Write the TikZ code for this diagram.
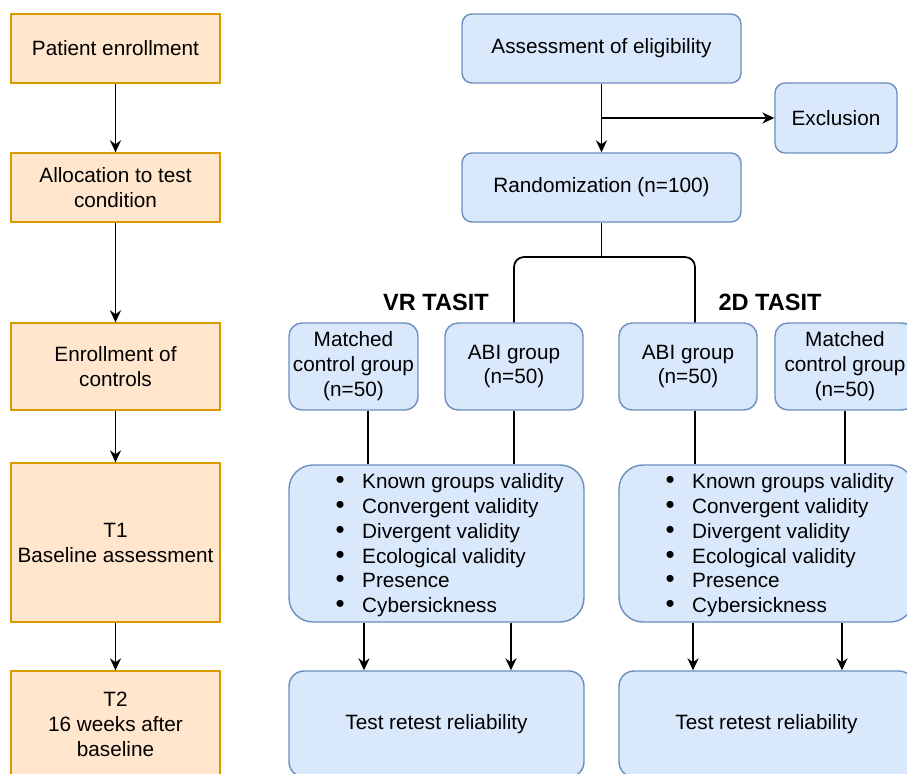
\documentclass[tikz,border=0pt]{standalone}
\usepackage{fontspec}
\setmainfont{Liberation Sans}
\usepackage{xcolor}
\usetikzlibrary{arrows.meta,positioning,calc}
\definecolor{orfill}{HTML}{FFE6CC}
\definecolor{orline}{HTML}{D79B00}
\definecolor{blfill}{HTML}{DAE8FC}
\definecolor{blline}{HTML}{6C8EBF}
\tikzset{
    txt/.style = {font=\fontsize{11.8}{14.2}\selectfont, align=center},
    phase/.style = {txt, draw=orline, fill=orfill, line width=0.8pt, minimum width=4.18cm, inner sep=0pt},
    box/.style = {txt, draw=blline, fill=blfill, line width=0.8pt, rounded corners=0.2cm, inner sep=0pt},
    listbox/.style = {box, rounded corners=0.48cm, minimum width=5.9cm, minimum height=3.14cm},
    grp/.style = {box, rounded corners=0.26cm, minimum height=1.74cm},
    items/.style = {font=\fontsize{11.8}{14.1}\selectfont, align=left, inner sep=0pt, anchor=west},
    arm/.style = {font=\fontsize{13.4}{16}\selectfont\bfseries, inner sep=0pt}
}
\newcommand{\itm}{\makebox[0.88cm]{\scalebox{1.25}{\textbullet}}}

\begin{document}
\begin{tikzpicture}[x=0.02cm, y=-0.02cm, line width=1pt, >={Stealth[length=6.8pt,width=6.3pt]}]

    \useasboundingbox (0,0) rectangle (907,774);
    \clip (0,0) rectangle (907,774);

    % Timeline
    \node[phase, minimum height=1.38cm] (Enr) at (115.5,48.5) {Patient enrollment};
    \node[phase, minimum height=1.38cm] (Alloc) at (115.5,187.5) {Allocation to test\\condition};
    \node[phase, minimum height=1.74cm] (Ctrl) at (115.5,366.5) {Enrollment of\\controls};
    \node[phase, minimum height=3.18cm] (TA) at (115.5,542.5) {T1\\Baseline assessment};
    \node[phase, minimum height=2.12cm] (TB) at (115.5,724) {T2\\16 weeks after\\baseline};

    % Nodes
    \node[box, minimum width=5.58cm, minimum height=1.38cm] (Elig) at (601.5,48.5) {Assessment of eligibility};
    \node[box, minimum width=2.44cm, minimum height=1.4cm] (Excl) at (836,118) {Exclusion};
    \node[box, minimum width=5.58cm, minimum height=1.38cm] (Rand) at (601.5,187.5) {Randomization (n=100)};
    \coordinate (S) at (601.5,257);

    \node[arm] (VRlab) at (436,302) {VR TASIT};
    \node[arm] (DDlab) at (770,302) {2D TASIT};

    \node[grp, minimum width=2.58cm] (VRc) at (353.5,366.5) {Matched\\control group\\(n=50)};
    \node[grp, minimum width=2.76cm] (VRa) at (514,366.5) {ABI group\\(n=50)};
    \node[grp, minimum width=2.76cm] (DDa) at (688,366.5) {ABI group\\(n=50)};
    \node[grp, minimum width=2.8cm] (DDc) at (845,366.5) {Matched\\control group\\(n=50)};

    \node[listbox] (VRl) at (436.5,543.5) {};
    \node[items] (VRi) at ([xshift=0.58cm,yshift=-1pt]VRl.west) {\itm Known groups validity\\\itm Convergent validity\\\itm Divergent validity\\\itm Ecological validity\\\itm Presence\\\itm Cybersickness};
    \node[listbox] (DDl) at (766.5,543.5) {};
    \node[items] (DDi) at ([xshift=0.58cm,yshift=-1pt]DDl.west) {\itm Known groups validity\\\itm Convergent validity\\\itm Divergent validity\\\itm Ecological validity\\\itm Presence\\\itm Cybersickness};

    \node[box, rounded corners=0.3cm, minimum width=5.9cm, minimum height=2.12cm] (VRt) at (436.5,724) {Test retest reliability};
    \node[box, rounded corners=0.3cm, minimum width=5.9cm, minimum height=2.12cm] (DDt) at (766.5,724) {Test retest reliability};

    % Edges with arrows
    \draw[->] (Enr) -- (Alloc);
    \draw[->] (Alloc) -- (Ctrl);
    \draw[->] (Ctrl) -- (TA);
    \draw[->] (TA) -- (TB);

    \draw[->] (Elig) -- (Rand);
    \draw[->] (Elig.south |- Excl.west) -- (Excl);
    \draw (Rand.south) -- (S);
    \draw[rounded corners=0.2cm] (VRa.north) |- (S) -| ([xshift=0.14cm]DDa.north);

    \draw ([xshift=0.29cm]VRc.south) -- ([xshift=0.29cm]VRc.south |- VRl.north);
    \draw (VRa.south) -- (VRa.south |- VRl.north);
    \draw ([xshift=0.14cm]DDa.south) -- ([xshift=0.14cm]DDa.south |- DDl.north);
    \draw (DDc.south) -- (DDc.south |- DDl.north);

    \draw[->] ([xshift=-1.45cm]VRl.south) -- ([xshift=-1.45cm]VRt.north);
    \draw[->] ([xshift=1.49cm]VRl.south) -- ([xshift=1.49cm]VRt.north);
    \draw[->] ([xshift=-1.47cm]DDl.south) -- ([xshift=-1.47cm]DDt.north);
    \draw[->] ([xshift=1.51cm]DDl.south) -- ([xshift=1.51cm]DDt.north);

\end{tikzpicture}
\end{document}
